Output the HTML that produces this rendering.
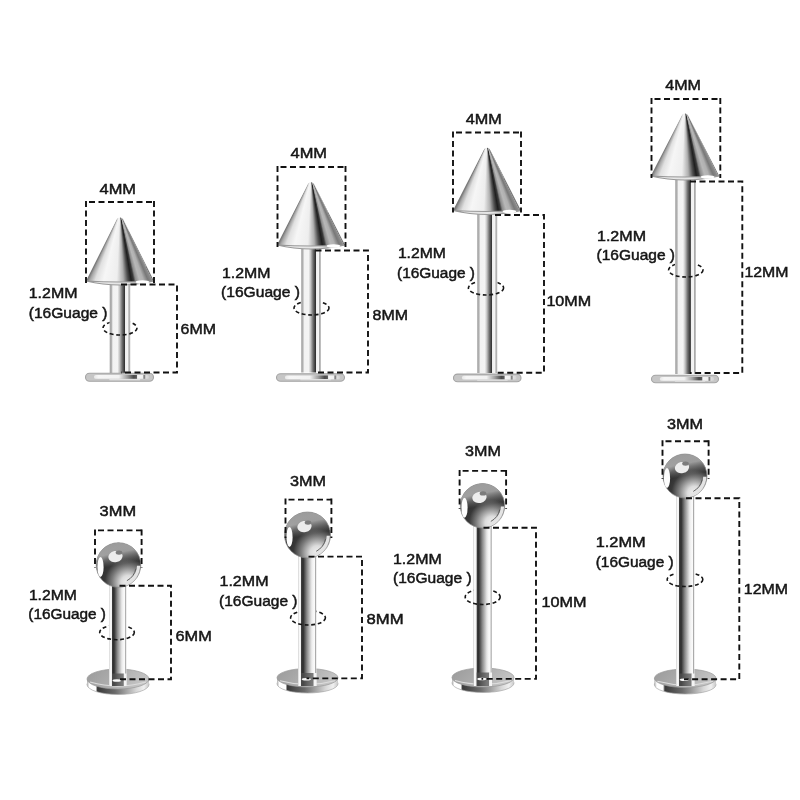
<!DOCTYPE html>
<html><head><meta charset="utf-8"><style>
html,body{margin:0;padding:0;background:#fff;width:800px;height:800px;overflow:hidden}
svg{position:absolute;left:0;top:0;will-change:transform}
.cone{position:absolute}
text{font-family:"Liberation Sans", sans-serif;fill:#151515}
</style></head><body>
<svg width="800" height="800" viewBox="0 0 800 800"><defs>
<linearGradient id="shT" x1="0" x2="1" y1="0" y2="0">
 <stop offset="0" stop-color="#c8c8c8"/><stop offset="0.05" stop-color="#a8a8a8"/>
 <stop offset="0.1" stop-color="#b4b4b4"/><stop offset="0.16" stop-color="#f2f2f2"/>
 <stop offset="0.38" stop-color="#f4f4f4"/><stop offset="0.48" stop-color="#c4c4c4"/>
 <stop offset="0.6" stop-color="#707070"/><stop offset="0.71" stop-color="#383838"/>
 <stop offset="0.735" stop-color="#2e2e2e"/><stop offset="0.755" stop-color="#eeeeee"/>
 <stop offset="0.88" stop-color="#f6f6f6"/><stop offset="0.92" stop-color="#a8a8a8"/>
 <stop offset="0.97" stop-color="#b8b8b8"/><stop offset="1" stop-color="#dddddd"/>
</linearGradient>
<linearGradient id="shB" x1="0" x2="1" y1="0" y2="0">
 <stop offset="0" stop-color="#c0c0c0"/><stop offset="0.05" stop-color="#fafafa"/>
 <stop offset="0.15" stop-color="#f2f2f2"/><stop offset="0.19" stop-color="#3a3a3a"/>
 <stop offset="0.28" stop-color="#2e2e2e"/><stop offset="0.48" stop-color="#8a8a8a"/>
 <stop offset="0.72" stop-color="#e4e4e4"/><stop offset="0.8" stop-color="#f4f4f4"/>
 <stop offset="0.9" stop-color="#fafafa"/><stop offset="0.95" stop-color="#a4a4a4"/>
 <stop offset="1" stop-color="#e0e0e0"/>
</linearGradient>
<linearGradient id="discT" x1="0" x2="1" y1="0" y2="0">
 <stop offset="0" stop-color="#bdbdbd"/><stop offset="0.09" stop-color="#d4d4d4"/>
 <stop offset="0.12" stop-color="#7a7a7a"/><stop offset="0.15" stop-color="#f2f2f2"/>
 <stop offset="0.5" stop-color="#ececec"/><stop offset="0.56" stop-color="#9a9a9a"/>
 <stop offset="0.62" stop-color="#555555"/><stop offset="0.72" stop-color="#6a6a6a"/>
 <stop offset="0.76" stop-color="#f8f8f8"/><stop offset="0.84" stop-color="#f0f0f0"/>
 <stop offset="0.87" stop-color="#8a8a8a"/><stop offset="0.9" stop-color="#e0e0e0"/>
 <stop offset="1" stop-color="#c4c4c4"/>
</linearGradient>
<linearGradient id="discFace" x1="0" x2="1" y1="0" y2="0">
 <stop offset="0" stop-color="#e8e8e8"/><stop offset="0.08" stop-color="#f6f6f6"/>
 <stop offset="0.45" stop-color="#f2f2f2"/><stop offset="0.6" stop-color="#a0a0a0"/>
 <stop offset="0.72" stop-color="#4a4a4a"/><stop offset="0.77" stop-color="#5a5a5a"/>
 <stop offset="0.79" stop-color="#f8f8f8"/><stop offset="0.88" stop-color="#f0f0f0"/>
 <stop offset="0.91" stop-color="#707070"/><stop offset="0.94" stop-color="#e0e0e0"/>
 <stop offset="1" stop-color="#d0d0d0"/>
</linearGradient>
<linearGradient id="discTop" x1="0" x2="1" y1="0" y2="0.3">
 <stop offset="0" stop-color="#9a9a9a"/><stop offset="0.5" stop-color="#acacac"/>
 <stop offset="1" stop-color="#c4c4c4"/>
</linearGradient>
<linearGradient id="discRim" x1="0" x2="1" y1="0" y2="0">
 <stop offset="0" stop-color="#b0b0b0"/><stop offset="0.04" stop-color="#ffffff"/>
 <stop offset="0.14" stop-color="#ffffff"/><stop offset="0.17" stop-color="#3a3a3a"/>
 <stop offset="0.45" stop-color="#6a6a6a"/><stop offset="0.8" stop-color="#d8d8d8"/>
 <stop offset="0.92" stop-color="#f0f0f0"/><stop offset="1" stop-color="#c8c8c8"/>
</linearGradient>
<radialGradient id="ballG" cx="0.7" cy="0.86" r="0.8" fx="0.72" fy="0.9">
 <stop offset="0" stop-color="#f4f4f4"/><stop offset="0.2" stop-color="#dcdcdc"/>
 <stop offset="0.45" stop-color="#7a7a7a"/><stop offset="0.64" stop-color="#383838"/><stop offset="0.86" stop-color="#2a2a2a"/><stop offset="1" stop-color="#606060"/>
</radialGradient>
<linearGradient id="ballTop" x1="0.3" x2="0.5" y1="0" y2="1">
 <stop offset="0" stop-color="#9a9a9a" stop-opacity="1"/><stop offset="0.25" stop-color="#a8a8a8" stop-opacity="0.9"/>
 <stop offset="0.52" stop-color="#8a8a8a" stop-opacity="0"/>
</linearGradient>
<linearGradient id="rimG" x1="0" x2="1" y1="0" y2="0">
 <stop offset="0" stop-color="#9a9a9a"/><stop offset="0.1" stop-color="#e8e8e8"/>
 <stop offset="0.6" stop-color="#e4e4e4"/><stop offset="0.75" stop-color="#c0c0c0"/>
 <stop offset="1" stop-color="#9a9a9a"/>
</linearGradient>
</defs>
<ellipse cx="120" cy="328" rx="17" ry="7" stroke="#151515" stroke-width="1.6" stroke-dasharray="3.8 2.7" fill="none"/>
<rect x="109.5" y="282" width="21.0" height="91" fill="url(#shT)"/>
<clipPath id="cl2"><rect x="109.0" y="328" width="22.0" height="10"/></clipPath>
<ellipse cx="120" cy="328" rx="17" ry="7" stroke="#151515" stroke-width="1.6" stroke-dasharray="3.8 2.7" fill="none" clip-path="url(#cl2)"/>
<rect x="85.5" y="373.3" width="68" height="7.9" rx="4" fill="#c6c6c6" stroke="#a4a4a4" stroke-width="1.1"/>
<rect x="93.97" y="374.9" width="55.20" height="3.9" rx="1.9" fill="url(#discFace)"/>
<rect x="109.15" y="378.9" width="31.05" height="1.3" rx="0.6" fill="#e2e2e2"/>
<ellipse cx="311.5" cy="308" rx="17.5" ry="7" stroke="#151515" stroke-width="1.6" stroke-dasharray="3.8 2.7" fill="none"/>
<rect x="301" y="247" width="20" height="125.5" fill="url(#shT)"/>
<clipPath id="cl9"><rect x="300.5" y="308" width="21" height="10"/></clipPath>
<ellipse cx="311.5" cy="308" rx="17.5" ry="7" stroke="#151515" stroke-width="1.6" stroke-dasharray="3.8 2.7" fill="none" clip-path="url(#cl9)"/>
<rect x="276.5" y="373.8" width="68" height="7.4" rx="4" fill="#c6c6c6" stroke="#a4a4a4" stroke-width="1.1"/>
<rect x="284.97" y="375.4" width="55.20" height="3.9" rx="1.9" fill="url(#discFace)"/>
<rect x="300.15" y="378.9" width="31.05" height="1.3" rx="0.6" fill="#e2e2e2"/>
<ellipse cx="486" cy="288" rx="17.6" ry="7" stroke="#151515" stroke-width="1.6" stroke-dasharray="3.8 2.7" fill="none"/>
<rect x="477" y="212" width="20.5" height="161" fill="url(#shT)"/>
<clipPath id="cl16"><rect x="476.5" y="288" width="21.5" height="10"/></clipPath>
<ellipse cx="486" cy="288" rx="17.6" ry="7" stroke="#151515" stroke-width="1.6" stroke-dasharray="3.8 2.7" fill="none" clip-path="url(#cl16)"/>
<rect x="453.5" y="374.1" width="67.5" height="7.599999999999989" rx="4" fill="#c6c6c6" stroke="#a4a4a4" stroke-width="1.1"/>
<rect x="461.90" y="375.7" width="54.80" height="3.9" rx="1.9" fill="url(#discFace)"/>
<rect x="476.98" y="379.4" width="30.82" height="1.3" rx="0.6" fill="#e2e2e2"/>
<ellipse cx="685.8" cy="270" rx="17.2" ry="7" stroke="#151515" stroke-width="1.6" stroke-dasharray="3.8 2.7" fill="none"/>
<rect x="675" y="178.5" width="21" height="195.5" fill="url(#shT)"/>
<clipPath id="cl23"><rect x="674.5" y="270" width="22" height="10"/></clipPath>
<ellipse cx="685.8" cy="270" rx="17.2" ry="7" stroke="#151515" stroke-width="1.6" stroke-dasharray="3.8 2.7" fill="none" clip-path="url(#cl23)"/>
<rect x="651.5" y="375.3" width="67" height="7.4" rx="4" fill="#c6c6c6" stroke="#a4a4a4" stroke-width="1.1"/>
<rect x="659.84" y="376.9" width="54.40" height="3.9" rx="1.9" fill="url(#discFace)"/>
<rect x="674.80" y="380.4" width="30.60" height="1.3" rx="0.6" fill="#e2e2e2"/>
<ellipse cx="118" cy="684.5" rx="31" ry="10.0" fill="url(#discRim)" stroke="#a8a8a8" stroke-width="0.7"/>
<rect x="87" y="679.0" width="62" height="5.5" fill="url(#discRim)"/>
<ellipse cx="118" cy="679.0" rx="31" ry="10.0" fill="url(#discTop)" stroke="#9a9a9a" stroke-width="0.7"/>
<path d="M90,682.0 Q118,690.2 146,682.0" stroke="#dcdcdc" stroke-width="1.2" fill="none"/>
<ellipse cx="117" cy="632.4" rx="17.3" ry="7.3" stroke="#151515" stroke-width="1.6" stroke-dasharray="3.8 2.7" fill="none"/>
<rect x="109" y="580" width="17.5" height="106" fill="url(#shB)"/>
<rect x="111.975" y="673.5" width="11.9" height="12.5" fill="#505050" opacity="0.75"/>
<rect x="123.875" y="673.5" width="2.625" height="12.5" fill="#f4f4f4"/>
<ellipse cx="116.875" cy="680.5" rx="4.375" ry="1.3" fill="#f8f8f8"/>
<clipPath id="cl37"><rect x="108.5" y="632.4" width="18.5" height="10.3"/></clipPath>
<ellipse cx="117" cy="632.4" rx="17.3" ry="7.3" stroke="#151515" stroke-width="1.6" stroke-dasharray="3.8 2.7" fill="none" clip-path="url(#cl37)"/>
<circle cx="118.5" cy="565" r="22.3" fill="url(#ballG)" stroke="#8a8a8a" stroke-width="0.7"/>
<circle cx="118.5" cy="565" r="22.3" fill="url(#ballTop)"/>
<ellipse cx="115.5" cy="556.6" rx="7.2" ry="5.6" fill="#ededed" transform="rotate(-12 115.5 556.6)"/>
<ellipse cx="119.0" cy="552.6" rx="3.3" ry="2.2" fill="#7c7c7c"/>
<ellipse cx="100.5" cy="567" rx="3.1" ry="10" fill="#fdfdfd"/>
<path d="M138.59,565.70 A20.1,20.1 0 0 1 124.71,584.12" stroke="#e4e4e4" stroke-width="3.2" fill="none"/>
<path d="M135.91,568.70 A17.8,17.8 0 0 1 126.86,580.72" stroke="#555" stroke-width="0.9" fill="none"/>
<ellipse cx="307.5" cy="683.75" rx="30.5" ry="9.25" fill="url(#discRim)" stroke="#a8a8a8" stroke-width="0.7"/>
<rect x="277.0" y="677.75" width="61.0" height="6" fill="url(#discRim)"/>
<ellipse cx="307.5" cy="677.75" rx="30.5" ry="9.25" fill="url(#discTop)" stroke="#9a9a9a" stroke-width="0.7"/>
<path d="M280.0,680.75 Q307.5,688.2 335.0,680.75" stroke="#dcdcdc" stroke-width="1.2" fill="none"/>
<ellipse cx="308" cy="617.8" rx="17.4" ry="7.2" stroke="#151515" stroke-width="1.6" stroke-dasharray="3.8 2.7" fill="none"/>
<rect x="298" y="550" width="18.5" height="136" fill="url(#shB)"/>
<rect x="301.145" y="673.0" width="12.58" height="13.0" fill="#505050" opacity="0.75"/>
<rect x="313.725" y="673.0" width="2.775" height="13.0" fill="#f4f4f4"/>
<ellipse cx="306.325" cy="679.25" rx="4.625" ry="1.3" fill="#f8f8f8"/>
<clipPath id="cl55"><rect x="297.5" y="617.8" width="19.5" height="10.2"/></clipPath>
<ellipse cx="308" cy="617.8" rx="17.4" ry="7.2" stroke="#151515" stroke-width="1.6" stroke-dasharray="3.8 2.7" fill="none" clip-path="url(#cl55)"/>
<circle cx="307.5" cy="535" r="23" fill="url(#ballG)" stroke="#8a8a8a" stroke-width="0.7"/>
<circle cx="307.5" cy="535" r="23" fill="url(#ballTop)"/>
<ellipse cx="304.5" cy="526.6" rx="7.2" ry="5.6" fill="#ededed" transform="rotate(-12 304.5 526.6)"/>
<ellipse cx="308.0" cy="522.6" rx="3.3" ry="2.2" fill="#7c7c7c"/>
<ellipse cx="289.5" cy="537" rx="3.1" ry="10" fill="#fdfdfd"/>
<path d="M328.29,535.73 A20.8,20.8 0 0 1 313.93,554.78" stroke="#e4e4e4" stroke-width="3.2" fill="none"/>
<path d="M325.60,538.85 A18.5,18.5 0 0 1 316.19,551.33" stroke="#555" stroke-width="0.9" fill="none"/>
<ellipse cx="483" cy="683.0" rx="31" ry="9.5" fill="url(#discRim)" stroke="#a8a8a8" stroke-width="0.7"/>
<rect x="452" y="677.5" width="62" height="5.5" fill="url(#discRim)"/>
<ellipse cx="483" cy="677.5" rx="31" ry="9.5" fill="url(#discTop)" stroke="#9a9a9a" stroke-width="0.7"/>
<path d="M455,680.5 Q483,688.2 511,680.5" stroke="#dcdcdc" stroke-width="1.2" fill="none"/>
<ellipse cx="482.7" cy="597" rx="17.5" ry="7.5" stroke="#151515" stroke-width="1.6" stroke-dasharray="3.8 2.7" fill="none"/>
<rect x="473.5" y="520" width="18.5" height="166" fill="url(#shB)"/>
<rect x="476.645" y="672.5" width="12.58" height="13.5" fill="#505050" opacity="0.75"/>
<rect x="489.225" y="672.5" width="2.775" height="13.5" fill="#f4f4f4"/>
<ellipse cx="481.825" cy="679.0" rx="4.625" ry="1.3" fill="#f8f8f8"/>
<clipPath id="cl73"><rect x="473.0" y="597" width="19.5" height="10.5"/></clipPath>
<ellipse cx="482.7" cy="597" rx="17.5" ry="7.5" stroke="#151515" stroke-width="1.6" stroke-dasharray="3.8 2.7" fill="none" clip-path="url(#cl73)"/>
<circle cx="482.5" cy="505.8" r="22.2" fill="url(#ballG)" stroke="#8a8a8a" stroke-width="0.7"/>
<circle cx="482.5" cy="505.8" r="22.2" fill="url(#ballTop)"/>
<ellipse cx="479.5" cy="497.40000000000003" rx="7.2" ry="5.6" fill="#ededed" transform="rotate(-12 479.5 497.40000000000003)"/>
<ellipse cx="483.0" cy="493.40000000000003" rx="3.3" ry="2.2" fill="#7c7c7c"/>
<ellipse cx="464.5" cy="507.8" rx="3.1" ry="10" fill="#fdfdfd"/>
<path d="M502.49,506.50 A20.0,20.0 0 0 1 488.68,524.82" stroke="#e4e4e4" stroke-width="3.2" fill="none"/>
<path d="M499.81,509.48 A17.7,17.7 0 0 1 490.81,521.43" stroke="#555" stroke-width="0.9" fill="none"/>
<ellipse cx="685.2" cy="684.75" rx="30.8" ry="9.25" fill="url(#discRim)" stroke="#a8a8a8" stroke-width="0.7"/>
<rect x="654.4000000000001" y="678.25" width="61.6" height="6.5" fill="url(#discRim)"/>
<ellipse cx="685.2" cy="678.25" rx="30.8" ry="9.25" fill="url(#discTop)" stroke="#9a9a9a" stroke-width="0.7"/>
<path d="M657.4000000000001,681.25 Q685.2,688.7 713.0,681.25" stroke="#dcdcdc" stroke-width="1.2" fill="none"/>
<ellipse cx="685" cy="579.5" rx="17.8" ry="7" stroke="#151515" stroke-width="1.6" stroke-dasharray="3.8 2.7" fill="none"/>
<rect x="676" y="490" width="18.5" height="196" fill="url(#shB)"/>
<rect x="679.145" y="673.5" width="12.58" height="12.5" fill="#505050" opacity="0.75"/>
<rect x="691.725" y="673.5" width="2.775" height="12.5" fill="#f4f4f4"/>
<ellipse cx="684.325" cy="679.75" rx="4.625" ry="1.3" fill="#f8f8f8"/>
<clipPath id="cl91"><rect x="675.5" y="579.5" width="19.5" height="10"/></clipPath>
<ellipse cx="685" cy="579.5" rx="17.8" ry="7" stroke="#151515" stroke-width="1.6" stroke-dasharray="3.8 2.7" fill="none" clip-path="url(#cl91)"/>
<circle cx="685" cy="476" r="22" fill="url(#ballG)" stroke="#8a8a8a" stroke-width="0.7"/>
<circle cx="685" cy="476" r="22" fill="url(#ballTop)"/>
<ellipse cx="682" cy="467.6" rx="7.2" ry="5.6" fill="#ededed" transform="rotate(-12 682 467.6)"/>
<ellipse cx="685.5" cy="463.6" rx="3.3" ry="2.2" fill="#7c7c7c"/>
<ellipse cx="667" cy="478" rx="3.1" ry="10" fill="#fdfdfd"/>
<path d="M704.79,476.69 A19.8,19.8 0 0 1 691.12,494.83" stroke="#e4e4e4" stroke-width="3.2" fill="none"/>
<path d="M702.12,479.64 A17.5,17.5 0 0 1 693.22,491.45" stroke="#555" stroke-width="0.9" fill="none"/>
</svg>
<div class="cone" style="left:86.0px;top:213px;width:68px;height:76px;clip-path:path('M30.94,6.30 A3.4,3.4 0 0 1 37.06,6.30 L68.00,68.00 Q34.00,75.00 0,68.00 Z');background:conic-gradient(from 154.09deg at 50% 0%, #a0a0a0 0.00deg, #8a8a8a 0.91deg, #787878 3.24deg, #b0b0b0 6.63deg, #b8b8b8 9.66deg, #8a8a8a 12.78deg, #3a3a3a 14.38deg, #1e1e1e 16.53deg, #505050 19.26deg, #b0b0b0 23.13deg, #eeeeee 28.69deg, #f6f6f6 39.56deg, #e0e0e0 46.17deg, #a8a8a8 49.98deg, #7a7a7a 51.81deg)"></div>
<div class="cone" style="left:277.0px;top:178px;width:68px;height:75px;clip-path:path('M30.95,6.19 A3.4,3.4 0 0 1 37.05,6.19 L68.00,67.00 Q34.00,74.00 0,67.00 Z');background:conic-gradient(from 153.77deg at 50% 0%, #a0a0a0 0.00deg, #8a8a8a 0.92deg, #787878 3.27deg, #b0b0b0 6.70deg, #b8b8b8 9.76deg, #8a8a8a 12.92deg, #3a3a3a 14.54deg, #1e1e1e 16.72deg, #505050 19.49deg, #b0b0b0 23.41deg, #eeeeee 29.05deg, #f6f6f6 40.07deg, #e0e0e0 46.76deg, #a8a8a8 50.62deg, #7a7a7a 52.46deg)"></div>
<div class="cone" style="left:453.0px;top:143.5px;width:68px;height:75.0px;clip-path:path('M30.95,6.19 A3.4,3.4 0 0 1 37.05,6.19 L68.00,67.00 Q34.00,74.00 0,67.00 Z');background:conic-gradient(from 153.77deg at 50% 0%, #a0a0a0 0.00deg, #8a8a8a 0.92deg, #787878 3.27deg, #b0b0b0 6.70deg, #b8b8b8 9.76deg, #8a8a8a 12.92deg, #3a3a3a 14.54deg, #1e1e1e 16.72deg, #505050 19.49deg, #b0b0b0 23.41deg, #eeeeee 29.05deg, #f6f6f6 40.07deg, #e0e0e0 46.76deg, #a8a8a8 50.62deg, #7a7a7a 52.46deg)"></div>
<div class="cone" style="left:650.75px;top:109.3px;width:68.5px;height:74.7px;clip-path:path('M31.21,6.10 A3.4,3.4 0 0 1 37.29,6.10 L68.50,66.70 Q34.25,73.70 0,66.70 Z');background:conic-gradient(from 153.50deg at 50% 0%, #a0a0a0 0.00deg, #8a8a8a 0.92deg, #787878 3.29deg, #b0b0b0 6.75deg, #b8b8b8 9.84deg, #8a8a8a 13.04deg, #3a3a3a 14.67deg, #1e1e1e 16.88deg, #505050 19.68deg, #b0b0b0 23.64deg, #eeeeee 29.35deg, #f6f6f6 40.50deg, #e0e0e0 47.25deg, #a8a8a8 51.14deg, #7a7a7a 53.00deg)"></div>
<svg width="800" height="800" viewBox="0 0 800 800">
<path d="M86.0,281 Q120,289 154.0,281 Q120,283 86.0,281 Z" fill="url(#rimG)" stroke="#999" stroke-width="1.1"/>
<ellipse cx="142.44" cy="282" rx="6.800000000000001" ry="1.8" fill="#fff"/>
<path d="M86,202 H154" stroke="#111" stroke-width="1.9" stroke-dasharray="6 3.5" fill="none" stroke-dashoffset="6.5"/>
<path d="M86,201 V283 M154,201 V283" stroke="#111" stroke-width="1.9" stroke-dasharray="6 3.5" fill="none"/>
<path d="M121,284.5 H177 V372.5 H121" stroke="#111" stroke-width="1.9" stroke-dasharray="6 3.5" fill="none"/>
<text x="99.5" y="193.75" textLength="36.5" lengthAdjust="spacingAndGlyphs" font-size="15.4" stroke="#151515" stroke-width="0.5">4MM</text>
<text x="28.75" y="298" textLength="48.75" lengthAdjust="spacingAndGlyphs" font-size="15.4" stroke="#151515" stroke-width="0.5">1.2MM</text>
<text x="28.75" y="317.5" textLength="78.75" lengthAdjust="spacingAndGlyphs" font-size="15.4" stroke="#151515" stroke-width="0.5">(16Guage )</text>
<text x="180.6" y="333.75" textLength="35.4" lengthAdjust="spacingAndGlyphs" font-size="15.4" stroke="#151515" stroke-width="0.5">6MM</text>
<path d="M277.0,245 Q311,253 345.0,245 Q311,247 277.0,245 Z" fill="url(#rimG)" stroke="#999" stroke-width="1.1"/>
<ellipse cx="333.44" cy="246" rx="6.800000000000001" ry="1.8" fill="#fff"/>
<path d="M277.5,167 H345.5" stroke="#111" stroke-width="1.9" stroke-dasharray="6 3.5" fill="none" stroke-dashoffset="6.5"/>
<path d="M277.5,166 V247 M345.5,166 V247" stroke="#111" stroke-width="1.9" stroke-dasharray="6 3.5" fill="none"/>
<path d="M315.5,250.5 H368 V372.5 H315.5" stroke="#111" stroke-width="1.9" stroke-dasharray="6 3.5" fill="none"/>
<text x="290.5" y="158.25" textLength="36.5" lengthAdjust="spacingAndGlyphs" font-size="15.4" stroke="#151515" stroke-width="0.5">4MM</text>
<text x="222" y="277.5" textLength="48.5" lengthAdjust="spacingAndGlyphs" font-size="15.4" stroke="#151515" stroke-width="0.5">1.2MM</text>
<text x="221" y="297" textLength="79" lengthAdjust="spacingAndGlyphs" font-size="15.4" stroke="#151515" stroke-width="0.5">(16Guage )</text>
<text x="372.5" y="319.5" textLength="35.5" lengthAdjust="spacingAndGlyphs" font-size="15.4" stroke="#151515" stroke-width="0.5">8MM</text>
<path d="M453.0,210.5 Q487,218.5 521.0,210.5 Q487,212.5 453.0,210.5 Z" fill="url(#rimG)" stroke="#999" stroke-width="1.1"/>
<ellipse cx="509.44" cy="211.5" rx="6.800000000000001" ry="1.8" fill="#fff"/>
<path d="M453,132.5 H521" stroke="#111" stroke-width="1.9" stroke-dasharray="6 3.5" fill="none" stroke-dashoffset="6.5"/>
<path d="M453,131.5 V212.5 M521,131.5 V212.5" stroke="#111" stroke-width="1.9" stroke-dasharray="6 3.5" fill="none"/>
<path d="M495,215 H544 V372.7 H495" stroke="#111" stroke-width="1.9" stroke-dasharray="6 3.5" fill="none"/>
<text x="465.8" y="124.2" textLength="36" lengthAdjust="spacingAndGlyphs" font-size="15.4" stroke="#151515" stroke-width="0.5">4MM</text>
<text x="397.9" y="257.75" textLength="48" lengthAdjust="spacingAndGlyphs" font-size="15.4" stroke="#151515" stroke-width="0.5">1.2MM</text>
<text x="397" y="277.8" textLength="78" lengthAdjust="spacingAndGlyphs" font-size="15.4" stroke="#151515" stroke-width="0.5">(16Guage )</text>
<text x="546.4" y="305.9" textLength="44.8" lengthAdjust="spacingAndGlyphs" font-size="15.4" stroke="#151515" stroke-width="0.5">10MM</text>
<path d="M650.75,176 Q685,184 719.25,176 Q685,178 650.75,176 Z" fill="url(#rimG)" stroke="#999" stroke-width="1.1"/>
<ellipse cx="707.605" cy="177" rx="6.8500000000000005" ry="1.8" fill="#fff"/>
<path d="M651.5,99 H720.3" stroke="#111" stroke-width="1.9" stroke-dasharray="6 3.5" fill="none" stroke-dashoffset="6.5"/>
<path d="M651.5,98 V178 M720.3,98 V178" stroke="#111" stroke-width="1.9" stroke-dasharray="6 3.5" fill="none"/>
<path d="M690,181.5 H742.3 V373 H690" stroke="#111" stroke-width="1.9" stroke-dasharray="6 3.5" fill="none"/>
<text x="665.3" y="90.25" textLength="35.7" lengthAdjust="spacingAndGlyphs" font-size="15.4" stroke="#151515" stroke-width="0.5">4MM</text>
<text x="597" y="241" textLength="49" lengthAdjust="spacingAndGlyphs" font-size="15.4" stroke="#151515" stroke-width="0.5">1.2MM</text>
<text x="596.5" y="260.2" textLength="78.5" lengthAdjust="spacingAndGlyphs" font-size="15.4" stroke="#151515" stroke-width="0.5">(16Guage )</text>
<text x="744.5" y="277.3" textLength="44" lengthAdjust="spacingAndGlyphs" font-size="15.4" stroke="#151515" stroke-width="0.5">12MM</text>
<path d="M95,530.4 H141.6" stroke="#111" stroke-width="1.9" stroke-dasharray="6 3.5" fill="none" stroke-dashoffset="6.5"/>
<path d="M95,529.4 V568 M141.6,529.4 V568" stroke="#111" stroke-width="1.9" stroke-dasharray="6 3.5" fill="none"/>
<path d="M119.5,585.7 H171 V679.2 H117.5" stroke="#111" stroke-width="1.9" stroke-dasharray="6 3.5" fill="none"/>
<text x="99.6" y="516" textLength="36.5" lengthAdjust="spacingAndGlyphs" font-size="15.4" stroke="#151515" stroke-width="0.5">3MM</text>
<text x="28.9" y="599.5" textLength="48" lengthAdjust="spacingAndGlyphs" font-size="15.4" stroke="#151515" stroke-width="0.5">1.2MM</text>
<text x="28.3" y="619.3" textLength="77.6" lengthAdjust="spacingAndGlyphs" font-size="15.4" stroke="#151515" stroke-width="0.5">(16Guage )</text>
<text x="175.5" y="641.3" textLength="36.3" lengthAdjust="spacingAndGlyphs" font-size="15.4" stroke="#151515" stroke-width="0.5">6MM</text>
<path d="M285.5,499.6 H331.4" stroke="#111" stroke-width="1.9" stroke-dasharray="6 3.5" fill="none" stroke-dashoffset="6.5"/>
<path d="M285.5,498.6 V538 M331.4,498.6 V538" stroke="#111" stroke-width="1.9" stroke-dasharray="6 3.5" fill="none"/>
<path d="M308.5,556.6 H362 V678.4 H306.5" stroke="#111" stroke-width="1.9" stroke-dasharray="6 3.5" fill="none"/>
<text x="290" y="485.5" textLength="36" lengthAdjust="spacingAndGlyphs" font-size="15.4" stroke="#151515" stroke-width="0.5">3MM</text>
<text x="219.5" y="586" textLength="49" lengthAdjust="spacingAndGlyphs" font-size="15.4" stroke="#151515" stroke-width="0.5">1.2MM</text>
<text x="219" y="606.4" textLength="78.5" lengthAdjust="spacingAndGlyphs" font-size="15.4" stroke="#151515" stroke-width="0.5">(16Guage )</text>
<text x="366.5" y="623.5" textLength="37" lengthAdjust="spacingAndGlyphs" font-size="15.4" stroke="#151515" stroke-width="0.5">8MM</text>
<path d="M459.6,470.9 H506.1" stroke="#111" stroke-width="1.9" stroke-dasharray="6 3.5" fill="none" stroke-dashoffset="6.5"/>
<path d="M459.6,469.9 V508.8 M506.1,469.9 V508.8" stroke="#111" stroke-width="1.9" stroke-dasharray="6 3.5" fill="none"/>
<path d="M483.5,527.7 H536 V678.9 H481.5" stroke="#111" stroke-width="1.9" stroke-dasharray="6 3.5" fill="none"/>
<text x="465.1" y="456.25" textLength="35.8" lengthAdjust="spacingAndGlyphs" font-size="15.4" stroke="#151515" stroke-width="0.5">3MM</text>
<text x="393" y="563.5" textLength="48.7" lengthAdjust="spacingAndGlyphs" font-size="15.4" stroke="#151515" stroke-width="0.5">1.2MM</text>
<text x="393" y="583" textLength="78.6" lengthAdjust="spacingAndGlyphs" font-size="15.4" stroke="#151515" stroke-width="0.5">(16Guage )</text>
<text x="541.5" y="607.4" textLength="45" lengthAdjust="spacingAndGlyphs" font-size="15.4" stroke="#151515" stroke-width="0.5">10MM</text>
<path d="M662.5,441.2 H708.6" stroke="#111" stroke-width="1.9" stroke-dasharray="6 3.5" fill="none" stroke-dashoffset="6.5"/>
<path d="M662.5,440.2 V479 M708.6,440.2 V479" stroke="#111" stroke-width="1.9" stroke-dasharray="6 3.5" fill="none"/>
<path d="M686,498.2 H739.3 V679.2 H684" stroke="#111" stroke-width="1.9" stroke-dasharray="6 3.5" fill="none"/>
<text x="667" y="428.9" textLength="36" lengthAdjust="spacingAndGlyphs" font-size="15.4" stroke="#151515" stroke-width="0.5">3MM</text>
<text x="595.7" y="547" textLength="50" lengthAdjust="spacingAndGlyphs" font-size="15.4" stroke="#151515" stroke-width="0.5">1.2MM</text>
<text x="595.7" y="566.8" textLength="78" lengthAdjust="spacingAndGlyphs" font-size="15.4" stroke="#151515" stroke-width="0.5">(16Guage )</text>
<text x="743.8" y="594.2" textLength="44.2" lengthAdjust="spacingAndGlyphs" font-size="15.4" stroke="#151515" stroke-width="0.5">12MM</text>
</svg>
</body></html>
